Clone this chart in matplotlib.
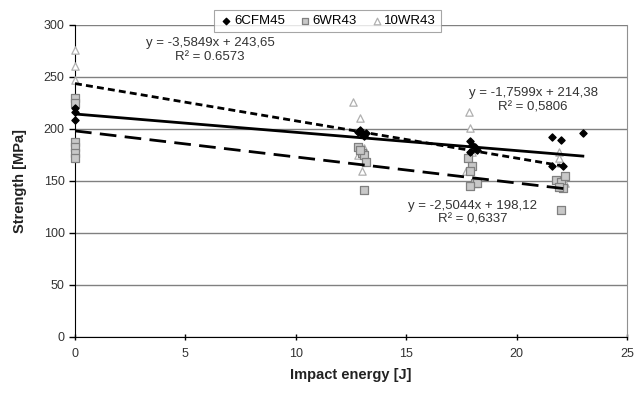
import matplotlib
matplotlib.use("Agg")
import matplotlib.pyplot as plt
import numpy as np

plt.rcParams['font.family'] = ['Liberation Sans', 'DejaVu Sans']

# data
cfm_x = [0, 0, 0, 12.8, 12.9, 13.0, 13.1, 13.2, 17.9, 18.0, 18.1, 18.2, 17.9,
         21.6, 22.0, 21.6, 22.1, 23.0]
cfm_y = [220, 216, 209, 197, 199, 195, 193, 196, 188, 185, 183, 180, 178,
         192, 189, 164, 164, 196]

wr6_x = [0, 0, 0, 0, 0, 0, 12.8, 13.0, 13.1, 13.2, 12.9, 13.1,
         17.8, 18.0, 17.9, 18.1, 18.2, 17.9, 21.8, 22.0, 22.1, 21.9, 22.2, 22.0]
wr6_y = [230, 225, 187, 183, 177, 172, 183, 177, 175, 168, 180, 141,
         172, 164, 160, 148, 148, 145, 151, 149, 143, 144, 155, 122]

wr10_x = [0, 0, 0, 12.6, 12.9, 12.8, 13.0, 13.1, 17.85, 17.9, 17.7, 18.0,
          21.9, 22.0, 22.2, 21.9]
wr10_y = [276, 261, 247, 226, 211, 175, 160, 182, 216, 201, 160, 178,
          178, 167, 148, 172]

# trend lines (slope, intercept, x range) from the equations in the chart
fit_cfm = (-1.7599, 214.38, 23.0)
fit_wr6 = (-2.5044, 198.12, 22.2)
fit_wr10 = (-3.5849, 243.65, 22.2)

labels = ['y = -1,7599x + 214,38\nR² = 0,5806',
          'y = -2,5044x + 198,12\nR² = 0,6337',
          'y = -3,5849x + 243,65\nR² = 0.6573']

fig = plt.figure(figsize=(6.34, 3.94), dpi=100)
ax = fig.add_axes([0.1183, 0.1447, 0.8707, 0.792])

ax.scatter(wr10_x, wr10_y, marker='^', s=28, facecolor='white',
           edgecolor='#b0b0b0', linewidth=0.9, zorder=3, label='10WR43', clip_on=False)
ax.scatter(wr6_x, wr6_y, marker='s', s=30, facecolor='#c8c8c8',
           edgecolor='#808080', linewidth=0.9, zorder=3, label='6WR43', clip_on=False)
ax.scatter(cfm_x, cfm_y, marker='D', s=13, facecolor='black',
           edgecolor='black', zorder=4, label='6CFM45', clip_on=False)

for (k, b, xm), ls in [(fit_cfm, '-'), (fit_wr6, (0, (6, 3))), (fit_wr10, (0, (2.5, 1.5)))]:
    xs = np.array([0, xm])
    ax.plot(xs, k * xs + b, color='black', lw=2, linestyle=ls, zorder=5)

ax.text(0.245, 0.96, labels[2], transform=ax.transAxes, ha='center', va='top',
        fontsize=9.5, color='#333333', linespacing=1.2)
ax.text(0.83, 0.80, labels[0], transform=ax.transAxes, ha='center', va='top',
        fontsize=9.5, color='#333333', linespacing=1.2)
ax.text(0.72, 0.44, labels[1], transform=ax.transAxes, ha='center', va='top',
        fontsize=9.5, color='#333333', linespacing=1.2)

ax.set_xlim(0, 25)
ax.set_ylim(0, 300)
ax.set_xticks([0, 5, 10, 15, 20, 25])
ax.set_yticks([0, 50, 100, 150, 200, 250, 300])
ax.yaxis.grid(True, color='#808080', lw=1)
ax.set_axisbelow(True)
ax.spines['top'].set_visible(False)
ax.spines['right'].set_color('#909090')
ax.spines['left'].set_color('black')
ax.spines['bottom'].set_color('black')
ax.tick_params(axis='both', labelsize=9, colors='black', labelcolor='#333333',
               length=4, width=1)
ax.tick_params(axis='x', direction='inout', pad=6)

ax.set_xlabel('Impact energy [J]', fontsize=10.5, fontweight='bold', color='#222222', labelpad=6)
ax.set_ylabel('Strength [MPa]', fontsize=10.5, fontweight='bold', color='#222222', labelpad=12)

h, l = ax.get_legend_handles_labels()
order = [2, 1, 0]
leg = ax.legend([h[i] for i in order], [l[i] for i in order], ncol=3,
                loc='upper left', bbox_to_anchor=(0.24, 1.07), fontsize=9.5,
                frameon=True, fancybox=False, edgecolor='#909090',
                handletextpad=0.1, columnspacing=1.0, borderpad=0.4,
                handlelength=1.0, markerscale=0.9)
leg.get_frame().set_linewidth(0.8)
leg.set_zorder(6)

fig.savefig('out.png', dpi=100)
